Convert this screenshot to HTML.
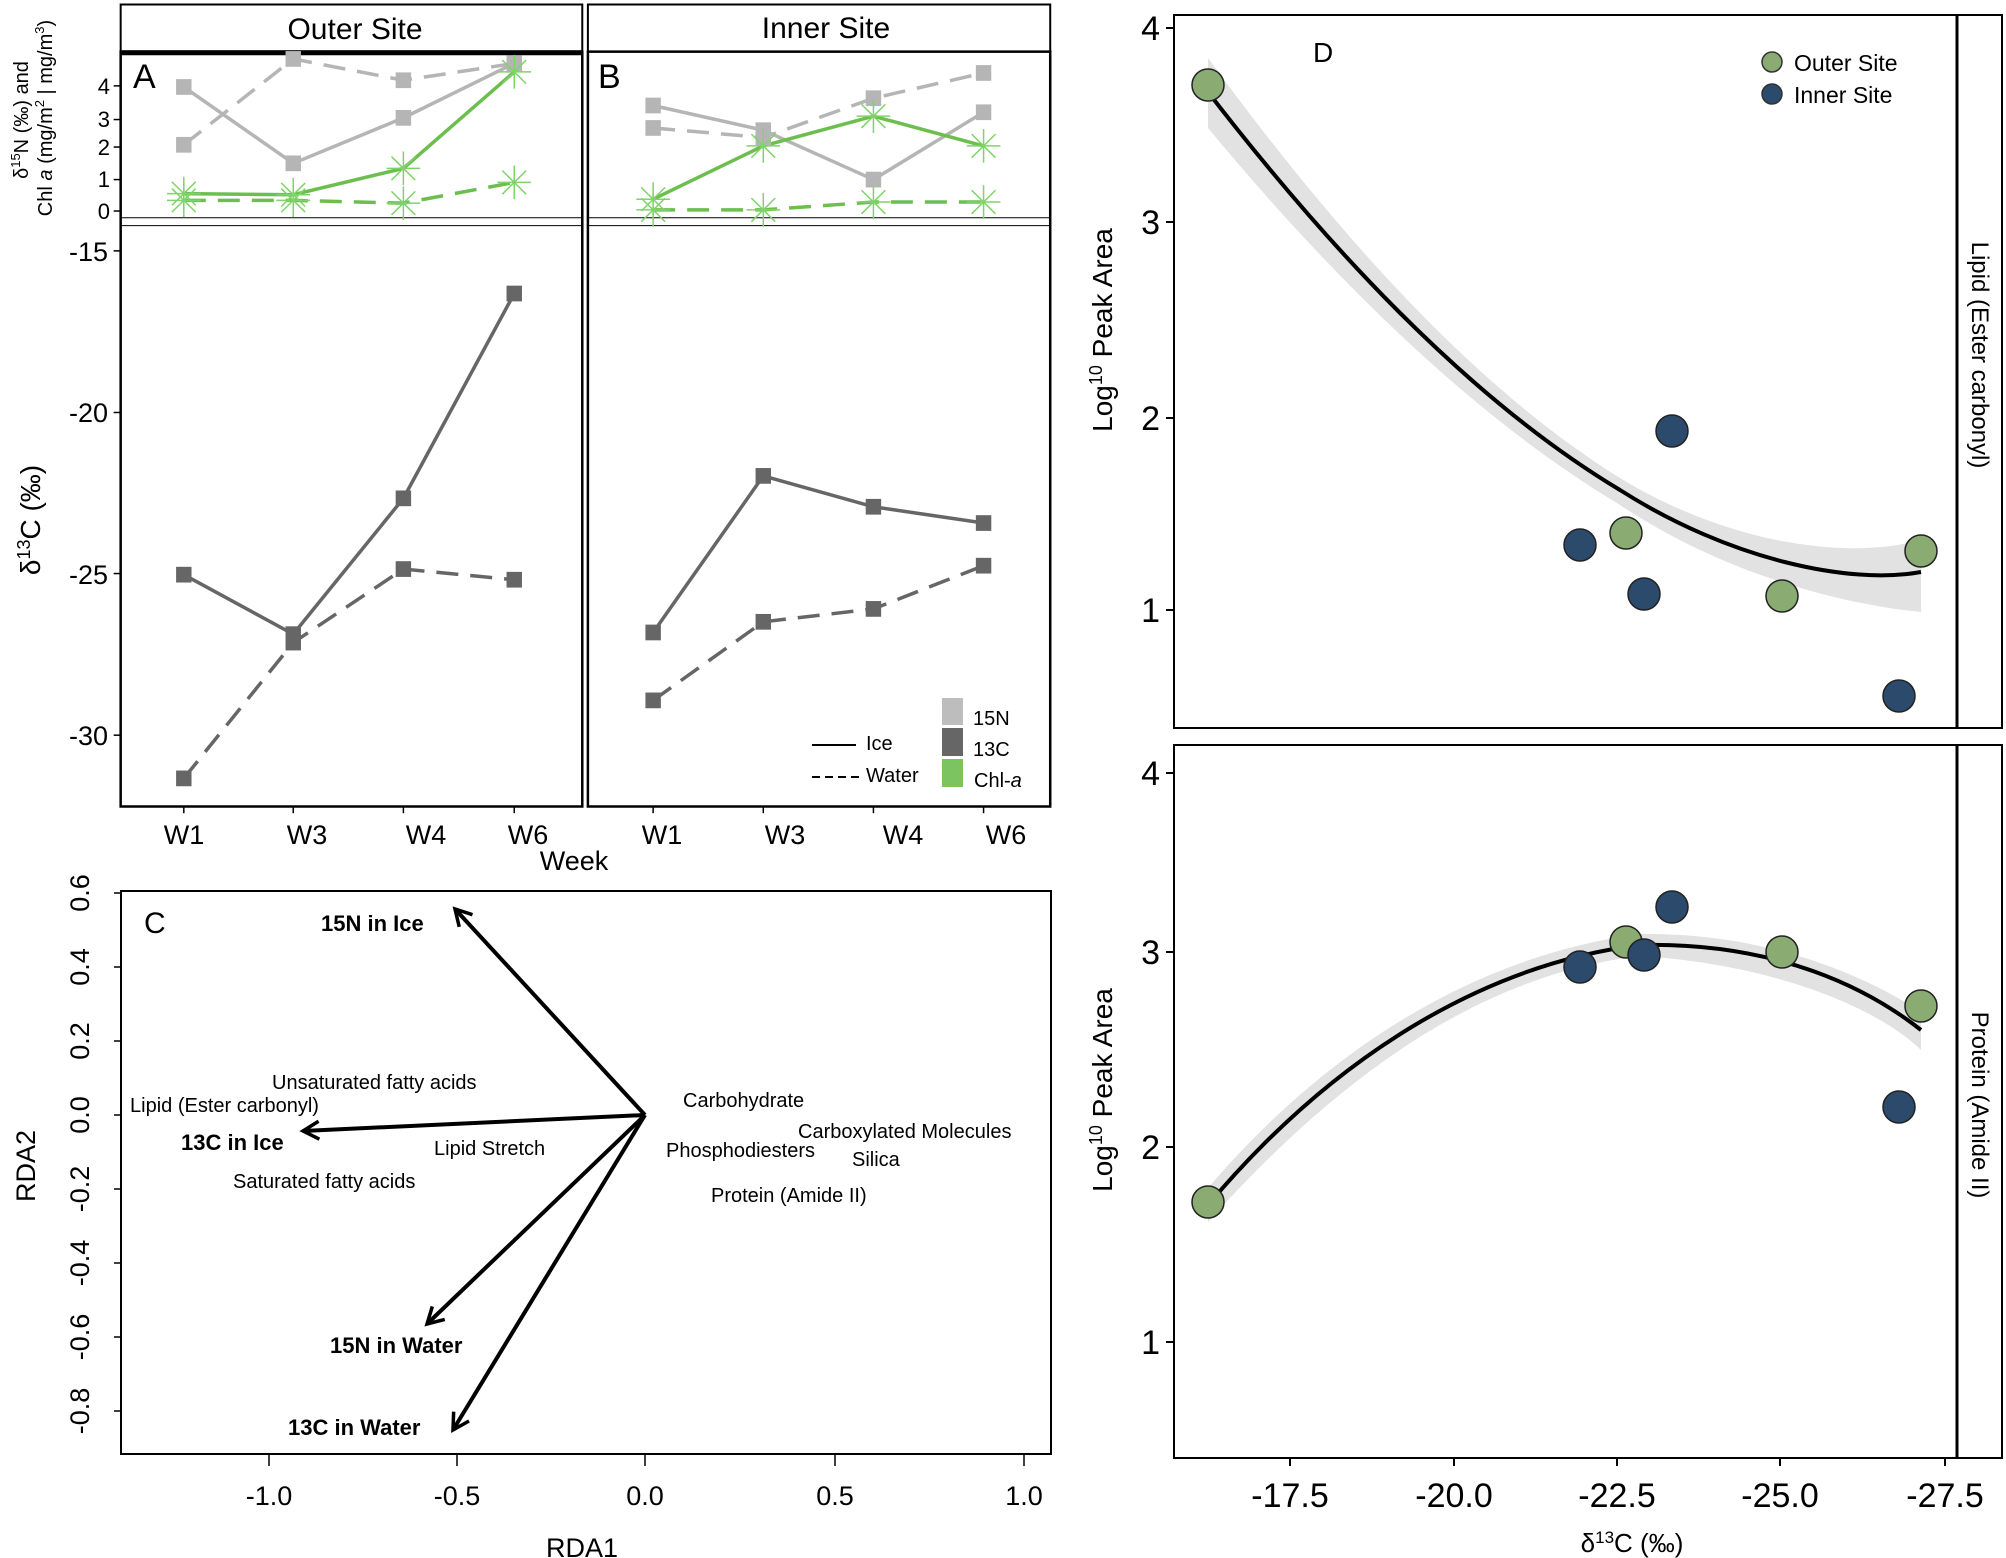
<!DOCTYPE html>
<html><head><meta charset="utf-8"><style>
html,body{margin:0;padding:0;background:#fff;overflow:hidden}
svg{display:block}
text{font-family:"Liberation Sans",sans-serif}
.n{vector-effect:non-scaling-stroke}
</style></head><body>
<svg width="2006" height="1558" viewBox="0 0 2006 1558" xmlns="http://www.w3.org/2000/svg">
<defs>
<g id="st" stroke="#7fd36a" stroke-width="1.5" fill="none">
<line class="n" x1="-24" y1="0" x2="24" y2="0"/><line class="n" x1="0" y1="-30" x2="0" y2="30"/>
<line class="n" x1="-17" y1="-21" x2="17" y2="21"/><line class="n" x1="-17" y1="21" x2="17" y2="-21"/>
</g>
<rect id="sl" x="-11" y="-14" width="22" height="28" fill="#b5b5b5"/>
<rect id="sd" x="-11" y="-14" width="22" height="28" fill="#666"/>
<marker id="ah" viewBox="-20 -12 24 24" markerWidth="24" markerHeight="24" refX="0" refY="0" orient="auto" markerUnits="userSpaceOnUse">
<polyline points="-16,-9 0,0 -16,9" fill="none" stroke="#000" stroke-width="3.5"/>
</marker>
</defs>
<rect width="2006" height="1558" fill="#fff"/>

<g transform="scale(0.70155,0.5612)">
<g fill="none" stroke="#000">
<rect class="n" stroke-width="2" x="172" y="8" width="658" height="84"/>
<rect class="n" stroke-width="2" x="838" y="8" width="659" height="84"/>
<rect class="n" stroke-width="2.5" x="172" y="92" width="658" height="1345"/>
<rect class="n" stroke-width="2.5" x="838" y="92" width="659" height="1345"/>
</g>
<line class="n" x1="172" y1="94" x2="830" y2="94" stroke="#000" stroke-width="5"/>
<g stroke="#000" stroke-width="1">
<line class="n" x1="172" y1="388" x2="830" y2="388"/><line class="n" x1="172" y1="402" x2="830" y2="402"/>
<line class="n" x1="838" y1="388" x2="1497" y2="388"/><line class="n" x1="838" y1="402" x2="1497" y2="402"/>
</g>
<g stroke="#000" stroke-width="1.5">
<line class="n" x1="162" y1="153" x2="172" y2="153"/><line class="n" x1="162" y1="213" x2="172" y2="213"/><line class="n" x1="162" y1="262" x2="172" y2="262"/><line class="n" x1="162" y1="320" x2="172" y2="320"/><line class="n" x1="162" y1="376" x2="172" y2="376"/>
<line class="n" x1="162" y1="447" x2="172" y2="447"/><line class="n" x1="162" y1="735" x2="172" y2="735"/><line class="n" x1="162" y1="1022" x2="172" y2="1022"/><line class="n" x1="162" y1="1310" x2="172" y2="1310"/>
<line class="n" x1="262" y1="1437" x2="262" y2="1449"/><line class="n" x1="418" y1="1437" x2="418" y2="1449"/><line class="n" x1="575" y1="1437" x2="575" y2="1449"/><line class="n" x1="733" y1="1437" x2="733" y2="1449"/>
<line class="n" x1="931" y1="1437" x2="931" y2="1449"/><line class="n" x1="1088" y1="1437" x2="1088" y2="1449"/><line class="n" x1="1245" y1="1437" x2="1245" y2="1449"/><line class="n" x1="1402" y1="1437" x2="1402" y2="1449"/>
</g>
<g fill="none" stroke-width="3.5">
<polyline class="n" points="262,155 418,291 575,210 733,113" stroke="#b5b5b5"/>
<polyline class="n" points="262,258 418,105 575,143 733,113" stroke="#b5b5b5" stroke-dasharray="22,12"/>
<polyline class="n" points="262,345 418,347 575,300 733,128" stroke="#6cbf4e"/>
<polyline class="n" points="262,357 418,357 575,362 733,325" stroke="#6cbf4e" stroke-dasharray="22,12"/>
<polyline class="n" points="931,188 1088,232 1245,320 1402,200" stroke="#b5b5b5"/>
<polyline class="n" points="931,228 1088,245 1245,175 1402,130" stroke="#b5b5b5" stroke-dasharray="22,12"/>
<polyline class="n" points="931,355 1088,260 1245,207 1402,260" stroke="#6cbf4e"/>
<polyline class="n" points="931,374 1088,374 1245,360 1402,360" stroke="#6cbf4e" stroke-dasharray="22,12"/>
<polyline class="n" points="262,1024 418,1130 575,888 733,523" stroke="#666"/>
<polyline class="n" points="262,1387 418,1145 575,1014 733,1033" stroke="#666" stroke-dasharray="22,12"/>
<polyline class="n" points="931,1127 1088,848 1245,903 1402,932" stroke="#666"/>
<polyline class="n" points="931,1248 1088,1108 1245,1085 1402,1008" stroke="#666" stroke-dasharray="22,12"/>
</g>
<g>
<use href="#sl" x="262" y="155"/><use href="#sl" x="418" y="291"/><use href="#sl" x="575" y="210"/><use href="#sl" x="733" y="113"/>
<use href="#sl" x="262" y="258"/><use href="#sl" x="418" y="105"/><use href="#sl" x="575" y="143"/><use href="#sl" x="733" y="113"/>
<use href="#sl" x="931" y="188"/><use href="#sl" x="1088" y="232"/><use href="#sl" x="1245" y="320"/><use href="#sl" x="1402" y="200"/>
<use href="#sl" x="931" y="228"/><use href="#sl" x="1088" y="245"/><use href="#sl" x="1245" y="175"/><use href="#sl" x="1402" y="130"/>
<use href="#st" x="262" y="345"/><use href="#st" x="418" y="347"/><use href="#st" x="575" y="300"/><use href="#st" x="733" y="128"/>
<use href="#st" x="262" y="357"/><use href="#st" x="418" y="357"/><use href="#st" x="575" y="362"/><use href="#st" x="733" y="325"/>
<use href="#st" x="931" y="355"/><use href="#st" x="1088" y="260"/><use href="#st" x="1245" y="207"/><use href="#st" x="1402" y="260"/>
<use href="#st" x="931" y="374"/><use href="#st" x="1088" y="374"/><use href="#st" x="1245" y="360"/><use href="#st" x="1402" y="360"/>
<use href="#sd" x="262" y="1024"/><use href="#sd" x="418" y="1130"/><use href="#sd" x="575" y="888"/><use href="#sd" x="733" y="523"/>
<use href="#sd" x="262" y="1387"/><use href="#sd" x="418" y="1145"/><use href="#sd" x="575" y="1014"/><use href="#sd" x="733" y="1033"/>
<use href="#sd" x="931" y="1127"/><use href="#sd" x="1088" y="848"/><use href="#sd" x="1245" y="903"/><use href="#sd" x="1402" y="932"/>
<use href="#sd" x="931" y="1248"/><use href="#sd" x="1088" y="1108"/><use href="#sd" x="1245" y="1085"/><use href="#sd" x="1402" y="1008"/>
</g>
</g>

<g>
<text x="355" y="39" font-size="30" text-anchor="middle">Outer Site</text>
<text x="826" y="38" font-size="30" text-anchor="middle">Inner Site</text>
<text x="133" y="88" font-size="34">A</text>
<text x="598" y="88" font-size="34">B</text>
<g font-size="22" text-anchor="end">
<text x="110" y="94">4</text><text x="110" y="127">3</text><text x="110" y="155">2</text><text x="110" y="187">1</text><text x="110" y="219">0</text>
</g>
<g font-size="27" text-anchor="end">
<text x="108" y="261">-15</text><text x="108" y="422">-20</text><text x="108" y="584">-25</text><text x="108" y="745">-30</text>
</g>
<text transform="translate(28,120) rotate(-90)" font-size="20" text-anchor="middle">δ<tspan font-size="13" dy="-8">15</tspan><tspan dy="8">N  (‰) and</tspan></text>
<text transform="translate(52,118) rotate(-90)" font-size="20" text-anchor="middle">Chl <tspan font-style="italic">a</tspan> (mg/m<tspan font-size="13" dy="-8">2</tspan><tspan dy="8"> | mg/m</tspan><tspan font-size="13" dy="-8">3</tspan><tspan dy="8">)</tspan></text>
<text transform="translate(40,520) rotate(-90)" font-size="28" text-anchor="middle">δ<tspan font-size="18" dy="-10">13</tspan><tspan dy="10">C (‰)</tspan></text>
<g font-size="27" text-anchor="middle">
<text x="184" y="844">W1</text><text x="307" y="844">W3</text><text x="426" y="844">W4</text><text x="528" y="844">W6</text>
<text x="662" y="844">W1</text><text x="785" y="844">W3</text><text x="903" y="844">W4</text><text x="1006" y="844">W6</text>
<text x="574" y="870">Week</text>
</g>
<rect x="942" y="698" width="21" height="27" fill="#bdbdbd"/>
<rect x="942" y="728" width="21" height="28" fill="#666"/>
<rect x="942" y="759" width="21" height="28" fill="#7cc460"/>
<g font-size="20"><text x="973" y="725">15N</text><text x="973" y="756">13C</text><text x="974" y="787">Chl-<tspan font-style="italic">a</tspan></text>
<text x="866" y="750">Ice</text><text x="866" y="782">Water</text></g>
<line x1="812" y1="745" x2="856" y2="745" stroke="#000" stroke-width="2"/>
<line x1="812" y1="777" x2="860" y2="777" stroke="#000" stroke-width="2" stroke-dasharray="8,5"/>
</g>

<g>
<rect x="121" y="891" width="930" height="563" fill="none" stroke="#000" stroke-width="2"/>
<g stroke="#000" stroke-width="1.5">
<line x1="114" y1="893" x2="121" y2="893"/><line x1="114" y1="967" x2="121" y2="967"/><line x1="114" y1="1041" x2="121" y2="1041"/><line x1="114" y1="1115" x2="121" y2="1115"/><line x1="114" y1="1189" x2="121" y2="1189"/><line x1="114" y1="1263" x2="121" y2="1263"/><line x1="114" y1="1337" x2="121" y2="1337"/><line x1="114" y1="1411" x2="121" y2="1411"/>
<line x1="269" y1="1454" x2="269" y2="1466"/><line x1="457" y1="1454" x2="457" y2="1466"/><line x1="645" y1="1454" x2="645" y2="1466"/><line x1="835" y1="1454" x2="835" y2="1466"/><line x1="1024" y1="1454" x2="1024" y2="1466"/>
</g>
<g font-size="27" text-anchor="middle">
<text transform="translate(89,893) rotate(-90)">0.6</text><text transform="translate(89,967) rotate(-90)">0.4</text><text transform="translate(89,1041) rotate(-90)">0.2</text><text transform="translate(89,1115) rotate(-90)">0.0</text><text transform="translate(89,1189) rotate(-90)">-0.2</text><text transform="translate(89,1263) rotate(-90)">-0.4</text><text transform="translate(89,1337) rotate(-90)">-0.6</text><text transform="translate(89,1411) rotate(-90)">-0.8</text>
<text x="269" y="1505">-1.0</text><text x="457" y="1505">-0.5</text><text x="645" y="1505">0.0</text><text x="835" y="1505">0.5</text><text x="1024" y="1505">1.0</text>
<text x="582" y="1557">RDA1</text>
<text transform="translate(35,1166) rotate(-90)">RDA2</text>
</g>
<text x="144" y="933" font-size="30">C</text>
<g stroke="#000" stroke-width="4" fill="none" marker-end="url(#ah)">
<line x1="645" y1="1115" x2="455" y2="909"/>
<line x1="645" y1="1115" x2="303" y2="1131"/>
<line x1="645" y1="1115" x2="427" y2="1324"/>
<line x1="645" y1="1115" x2="453" y2="1430"/>
</g>
<g font-size="22" font-weight="bold">
<text x="321" y="931">15N in Ice</text><text x="181" y="1150">13C in Ice</text><text x="330" y="1353">15N in Water</text><text x="288" y="1435">13C in Water</text>
</g>
<g font-size="20">
<text x="272" y="1089">Unsaturated fatty acids</text><text x="130" y="1112">Lipid (Ester carbonyl)</text>
<text x="434" y="1155">Lipid Stretch</text><text x="233" y="1188">Saturated fatty acids</text>
<text x="683" y="1107">Carbohydrate</text><text x="798" y="1138">Carboxylated Molecules</text>
<text x="666" y="1157">Phosphodiesters</text><text x="852" y="1166">Silica</text><text x="711" y="1202">Protein (Amide II)</text>
</g>
</g>

<g>
<g fill="none" stroke="#000" stroke-width="2">
<rect x="1174" y="15" width="783" height="713"/><rect x="1957" y="15" width="45" height="713"/>
<rect x="1174" y="745" width="783" height="713"/><rect x="1957" y="745" width="45" height="713"/>
</g>
<line x1="1957" y1="15" x2="1957" y2="728" stroke="#000" stroke-width="3"/>
<line x1="1957" y1="745" x2="1957" y2="1458" stroke="#000" stroke-width="3"/>
<g stroke="#000" stroke-width="2">
<line x1="1166" y1="28" x2="1174" y2="28"/><line x1="1166" y1="222" x2="1174" y2="222"/><line x1="1166" y1="418" x2="1174" y2="418"/><line x1="1166" y1="610" x2="1174" y2="610"/>
<line x1="1166" y1="773" x2="1174" y2="773"/><line x1="1166" y1="952" x2="1174" y2="952"/><line x1="1166" y1="1147" x2="1174" y2="1147"/><line x1="1166" y1="1342" x2="1174" y2="1342"/>
<line x1="1290" y1="1458" x2="1290" y2="1466"/><line x1="1454" y1="1458" x2="1454" y2="1466"/><line x1="1617" y1="1458" x2="1617" y2="1466"/><line x1="1780" y1="1458" x2="1780" y2="1466"/><line x1="1945" y1="1458" x2="1945" y2="1466"/>
</g>
<g font-size="34" text-anchor="end">
<text x="1160" y="40">4</text><text x="1160" y="234">3</text><text x="1160" y="430">2</text><text x="1160" y="622">1</text>
<text x="1160" y="785">4</text><text x="1160" y="964">3</text><text x="1160" y="1159">2</text><text x="1160" y="1354">1</text>
</g>
<g font-size="34" text-anchor="middle">
<text x="1290" y="1507">-17.5</text><text x="1454" y="1507">-20.0</text><text x="1617" y="1507">-22.5</text><text x="1780" y="1507">-25.0</text><text x="1945" y="1507">-27.5</text>
</g>
<text x="1632" y="1552" font-size="26" text-anchor="middle">δ<tspan font-size="17" dy="-9">13</tspan><tspan dy="9">C (‰)</tspan></text>
<text transform="translate(1112,330) rotate(-90)" font-size="28" text-anchor="middle">Log<tspan font-size="18" dy="-10">10</tspan><tspan dy="10"> Peak Area</tspan></text>
<text transform="translate(1112,1090) rotate(-90)" font-size="28" text-anchor="middle">Log<tspan font-size="18" dy="-10">10</tspan><tspan dy="10"> Peak Area</tspan></text>
<text transform="translate(1972,355) rotate(90)" font-size="24" text-anchor="middle">Lipid (Ester carbonyl)</text>
<text transform="translate(1972,1105) rotate(90)" font-size="24" text-anchor="middle">Protein (Amide II)</text>
<text x="1313" y="62" font-size="28">D</text>
<circle cx="1772" cy="62" r="10" fill="#8aab72" stroke="#333" stroke-width="1.5"/>
<circle cx="1772" cy="94" r="10" fill="#2c4a6b" stroke="#333" stroke-width="1.5"/>
<text x="1794" y="71" font-size="23">Outer Site</text><text x="1794" y="103" font-size="23">Inner Site</text>
<path d="M1208,58 C1330,225 1470,385 1620,478 C1730,545 1850,560 1921,540 L1921,612 C1850,605 1730,578 1620,505 C1470,415 1330,275 1208,128 Z" fill="#e2e2e2"/>
<path d="M1208,92 C1330,250 1470,400 1620,490 C1730,560 1850,585 1921,572" fill="none" stroke="#000" stroke-width="4"/>
<path d="M1208,1188 C1330,1045 1480,955 1640,934 C1780,932 1880,985 1921,1012 L1921,1050 C1880,1010 1780,965 1640,956 C1480,975 1340,1075 1208,1222 Z" fill="#e2e2e2"/>
<path d="M1208,1205 C1330,1060 1480,965 1640,945 C1780,942 1870,990 1921,1030" fill="none" stroke="#000" stroke-width="4"/>
<g stroke="#222" stroke-width="1.5">
<circle cx="1208" cy="85" r="16" fill="#8aab72"/><circle cx="1626" cy="533" r="16" fill="#8aab72"/><circle cx="1782" cy="596" r="16" fill="#8aab72"/><circle cx="1921" cy="551" r="16" fill="#8aab72"/>
<circle cx="1580" cy="545" r="16" fill="#2c4a6b"/><circle cx="1644" cy="594" r="16" fill="#2c4a6b"/><circle cx="1672" cy="431" r="16" fill="#2c4a6b"/><circle cx="1899" cy="696" r="16" fill="#2c4a6b"/>
<circle cx="1208" cy="1202" r="16" fill="#8aab72"/><circle cx="1626" cy="942" r="16" fill="#8aab72"/><circle cx="1782" cy="952" r="16" fill="#8aab72"/><circle cx="1921" cy="1006" r="16" fill="#8aab72"/>
<circle cx="1580" cy="967" r="16" fill="#2c4a6b"/><circle cx="1644" cy="955" r="16" fill="#2c4a6b"/><circle cx="1672" cy="907" r="16" fill="#2c4a6b"/><circle cx="1899" cy="1107" r="16" fill="#2c4a6b"/>
</g>
</g>
</svg>
</body></html>
